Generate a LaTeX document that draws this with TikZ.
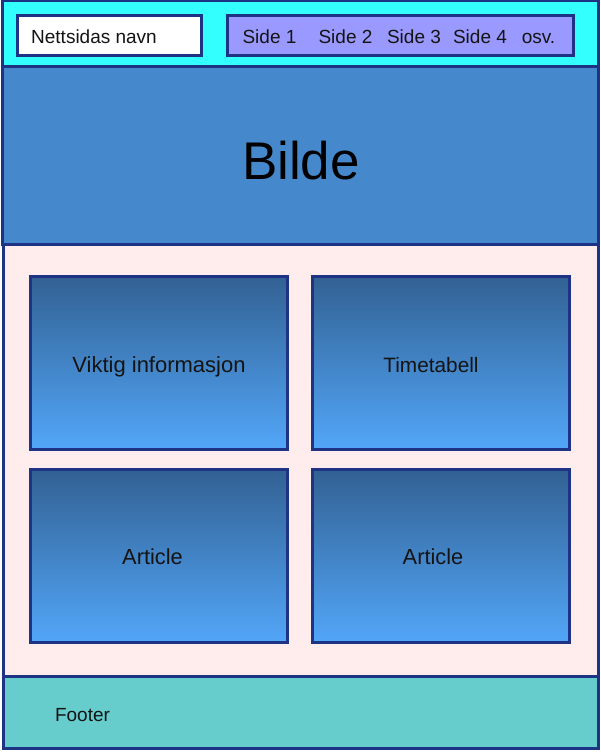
\documentclass[tikz,border=0pt]{standalone}
\usepackage{fontspec}
\setmainfont{Liberation Sans}
\definecolor{edge}{HTML}{1F3385}
\definecolor{headbg}{HTML}{33FFFF}
\definecolor{navbg}{HTML}{9999FF}
\definecolor{herobg}{HTML}{4589CC}
\definecolor{mainbg}{HTML}{FFECEC}
\definecolor{footbg}{HTML}{66CCCC}
\definecolor{cardtop}{HTML}{326193}
\definecolor{cardbot}{HTML}{52A6F8}
\definecolor{ink}{HTML}{141414}
\newcommand{\fs}[1]{\fontsize{#1}{#1}\selectfont}
\tikzset{
  band/.style={draw=edge, line width=3pt, inner sep=0pt, outer sep=0pt},
  card/.style={draw=edge, line width=3pt, top color=cardtop, bottom color=cardbot,
    minimum width=257pt, minimum height=173pt, inner sep=0pt},
  label/.style={text=ink, inner sep=0pt, anchor=base},
}
\begin{document}
\begin{tikzpicture}[x=1pt, y=-1pt]
\useasboundingbox (0,0) rectangle (601,752);
% page sections
\node[band, fill=headbg, minimum width=596pt, minimum height=66pt] (header) at (300.5,34) {};
\node[band, fill=herobg, minimum width=596pt, minimum height=177pt] (hero) at (300.5,155.5) {};
\node[band, fill=mainbg, minimum width=595pt, minimum height=432pt] (main) at (300.5,460) {};
\node[band, fill=footbg, minimum width=595pt, minimum height=72pt] (footer) at (300.5,712) {};
% header contents
\node[band, fill=white, minimum width=184pt, minimum height=40pt] (brand) at (109.5,35.5) {};
\node[band, fill=navbg, minimum width=346pt, minimum height=40pt] (nav) at (400.5,35.5) {};
\node[label, font=\fs{19}] (brandtxt) at (94,44) {Nettsidas navn};
\node[label, font=\fs{19}] (s1) at (269.5,44) {Side 1};
\node[label, font=\fs{19}] (s2) at (345.5,44) {Side 2};
\node[label, font=\fs{19}] (s3) at (414,44) {Side 3};
\node[label, font=\fs{19}] (s4) at (480,44) {Side 4};
\node[label, font=\fs{19}] (s5) at (538.5,44) {osv.};
% hero
\node[label, font=\fs{53}, text=black] (herotxt) at (301,179) {Bilde};
% content cards
\node[card] (c1) at (158.5,362.5) {};
\node[card] (c2) at (440.5,362.5) {};
\node[card] (c3) at (158.5,556) {};
\node[card] (c4) at (440.5,556) {};
\node[label, font=\fs{22}] (c1txt) at (159,372) {Viktig informasjon};
\node[label, font=\fs{20.8}] (c2txt) at (431,372) {Timetabell};
\node[label, font=\fs{21.8}] (c3txt) at (152.5,564) {Article};
\node[label, font=\fs{21.8}] (c4txt) at (433,564) {Article};
% footer text
\node[label, font=\fs{19}] (foottxt) at (82.5,721) {Footer};
\end{tikzpicture}
\end{document}
